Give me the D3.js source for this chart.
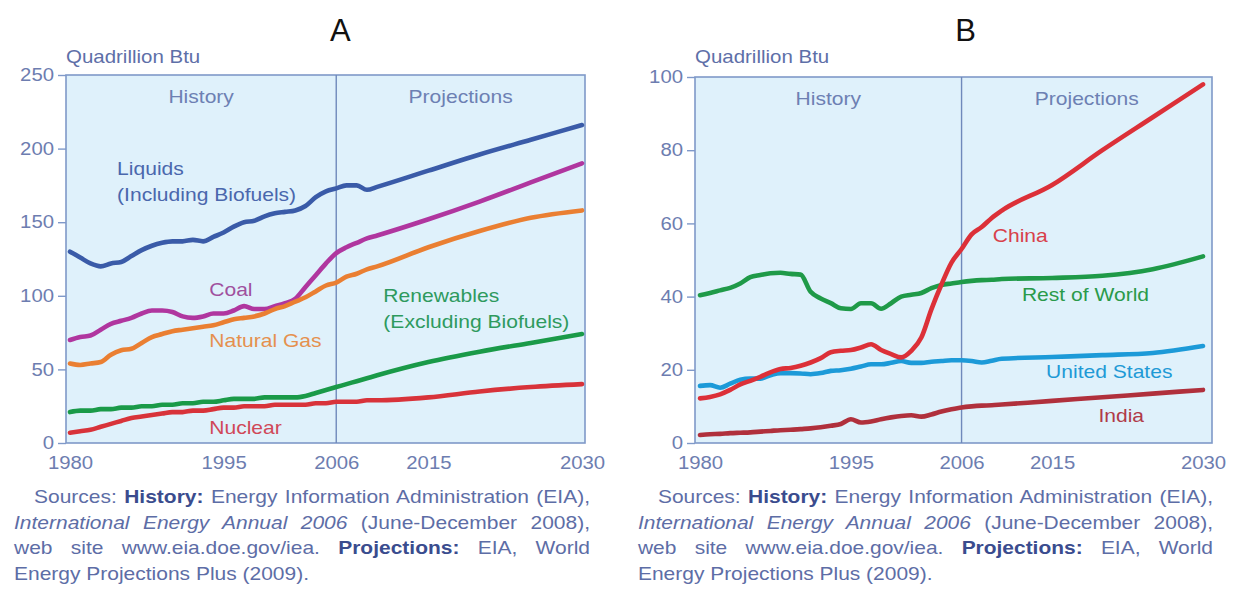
<!DOCTYPE html>
<html>
<head>
<meta charset="utf-8">
<script src="https://cdn.jsdelivr.net/npm/d3@7"></script>
<style>
  body { margin: 0; background: #ffffff; }
  #graf { position: relative; width: 1242px; height: 590px; overflow: hidden; font-family: "Liberation Sans", Arial, sans-serif; }
  .src { position: absolute; font-size: 18.6px; color: #5d6da6; white-space: nowrap; transform-origin: 0 0; }
  .src.just { text-align: justify; text-align-last: justify; white-space: normal; }
  .src b { color: #3a4c8e; }
</style>
</head>
<body>
<div id="graf"></div>
<script>
// years shared by every series
const years = [1980,1981,1982,1983,1984,1985,1986,1987,1988,1989,1990,1991,1992,1993,1994,1995,1996,1997,1998,1999,
  2000,2001,2002,2003,2004,2005,2006,2007,2008,2009,2010,2015,2020,2025,2030]

// Panel A - world energy use by fuel
const liquids = [130,126,122,120,122,123,127,131,134,136,137,137,138,137,140,143,147,150,151,154,
  156,157,158,161,167,171,173,175,175,172,174,185,196,206,216]
const coal = [70,72,73,77,81,83,85,88,90,90,89,86,85,86,88,88,90,93,91,91,
  93,95,98,106,114,122,129,133,136,139,141,152,164,177,190]
const naturalGas = [54,53,54,55,60,63,64,68,72,74,76,77,78,79,80,82,84,85,86,88,
  91,93,96,99,103,107,109,113,115,118,120,133,144,153,158]
const renewables = [21,22,22,23,23,24,24,25,25,26,26,27,27,28,28,29,30,30,30,31,
  31,31,31,32,34,36,38,40,42,44,46,55,62,68,74]
const nuclear = [7,8,9,11,13,15,17,18,19,20,21,21,22,22,23,24,24,25,25,25,
  26,26,26,26,27,27,28,28,28,29,29,31,35,38,40]

// Panel B - energy use by country
const china = [12.2,12.6,13.3,14.5,16,17,18.1,19.3,20.2,20.5,21.1,22,23.2,24.8,25.2,25.4,26.1,27,25.4,24.3,
  23.4,25.2,28.8,36.5,43.3,49.3,53,57,59,61.5,63.5,70.5,80,89,98]
const restOfWorld = [40.4,41,41.7,42.4,43.6,45.3,45.9,46.4,46.5,46.2,46,41.3,39.5,38.2,36.8,36.6,38.2,38.2,36.7,38.2,
  40,40.5,41,42.3,43.2,43.6,44,44.3,44.5,44.6,44.8,45.1,45.7,47.5,51]
const unitedStates = [15.6,15.8,15.1,16.2,17.3,17.6,17.6,18.5,19.1,19.1,19,18.8,19.1,19.7,19.9,20.3,20.9,21.5,21.5,21.9,
  22.4,21.9,21.9,22.2,22.4,22.6,22.6,22.4,22,22.5,23,23.5,24,24.6,26.5]
const india = [2.2,2.4,2.5,2.7,2.8,2.9,3.1,3.3,3.5,3.6,3.8,4,4.3,4.7,5.2,6.5,5.6,5.9,6.5,7,
  7.4,7.6,7.2,7.8,8.6,9.2,9.7,10,10.2,10.3,10.5,11.5,12.5,13.5,14.5]

const yTicksA = [0,50,100,150,200,250]
const yTicksB = [0,20,40,60,80,100]
const xTicks = [1980,1995,2006,2015,2030]

const FONT = "Liberation Sans, Arial, sans-serif"
const SX = 1.17   // the printed labels are a little wider than Arial

// widen text horizontally around its anchor point
const stretch = (sel, sx) => sel.each(function () {
  const t = d3.select(this)
  const x = +t.attr("x") || 0
  const y = +t.attr("y") || 0
  t.attr("x", 0).attr("y", 0).attr("transform", `translate(${x},${y}) scale(${sx},1)`)
  t.selectAll("tspan").attr("x", 0)
})

const graf = d3.select("#graf")
const svg = graf.append("svg")
    .attr("width", 1242)
    .attr("height", 590)
    .style("position", "absolute")
    .style("left", 0)
    .style("top", 0)

const drawPanel = (p) => {
  const x = d3.scaleLinear().domain([1980, 2030]).range(p.xr)
  const y = d3.scaleLinear().domain([0, p.ymax]).range([443, p.top])
  const g = svg.append("g").attr("font-family", FONT)

  // plot background
  g.append("rect")
      .attr("x", p.left).attr("y", p.top)
      .attr("width", p.right - p.left).attr("height", 443 - p.top)
      .attr("fill", "#dff1fb")
      .attr("stroke", "#7f99c9")
      .attr("stroke-width", 1.6)

  g.append("line")
      .attr("x1", x(2006)).attr("x2", x(2006))
      .attr("y1", p.top).attr("y2", 443)
      .attr("stroke", "#6f89bb")
      .attr("stroke-width", 1.4)

  // axes
  g.append("g")
      .attr("transform", `translate(${p.left},0)`)
      .call(d3.axisLeft(y).tickValues(p.yTicks).tickSize(8).tickSizeOuter(0).tickPadding(4))
      .call(a => a.select(".domain").remove())
      .call(a => a.selectAll("line").attr("stroke", "#7f99c9").attr("stroke-width", 1.4))
      .call(a => a.selectAll("text").attr("fill", "#6d7db0").attr("font-size", 18).attr("font-family", FONT).call(stretch, 1.13))

  g.append("g")
      .attr("transform", `translate(0,443)`)
      .call(d3.axisBottom(x).tickValues(xTicks).tickFormat(d3.format("d")).tickSize(0).tickPadding(13))
      .call(a => a.select(".domain").remove())
      .call(a => a.selectAll("text").attr("fill", "#6d7db0").attr("font-size", 18).attr("font-family", FONT).call(stretch, 1.13))

  g.append("text")
      .attr("x", p.left).attr("y", 63)
      .attr("fill", "#5e6fa8").attr("font-size", 17.5)
      .text("Quadrillion Btu")
      .call(stretch, SX)

  g.append("text")
      .attr("x", (p.left + x(2006)) / 2).attr("y", p.top + 28)
      .attr("text-anchor", "middle").attr("fill", "#6d80b3").attr("font-size", 18)
      .text("History")
      .call(stretch, SX)
  g.append("text")
      .attr("x", (x(2006) + p.right) / 2).attr("y", p.top + 28)
      .attr("text-anchor", "middle").attr("fill", "#6d80b3").attr("font-size", 18)
      .text("Projections")
      .call(stretch, SX)

  const line = d3.line()
      .x((d, i) => x(years[i]))
      .y(d => y(d))
      .curve(d3.curveMonotoneX)

  p.series.forEach(s => {
    g.append("path")
        .attr("fill", "none")
        .attr("stroke", s.color)
        .attr("stroke-width", 4.6)
        .attr("stroke-linejoin", "round")
        .attr("stroke-linecap", "round")
        .attr("d", line(s.values))
  })

  p.labels.forEach(l => {
    const t = g.append("text")
        .attr("x", x(l.at[0])).attr("y", y(l.at[1]))
        .attr("fill", l.color).attr("font-size", 18)
    l.lines.forEach((txt, i) => {
      t.append("tspan").attr("x", x(l.at[0])).attr("dy", i ? 26 : 0).text(txt)
    })
    t.call(stretch, SX)
  })

  // panel letter
  svg.append("text")
      .attr("x", x(2006) + 4).attr("y", 41)
      .attr("text-anchor", "middle")
      .attr("font-family", FONT)
      .attr("font-size", 31).attr("fill", "#111")
      .text(p.letter)
}

drawPanel({
  letter: "A", xr: [70, 582], left: 66, right: 585, top: 75, ymax: 250, yTicks: yTicksA,
  series: [
    {values: liquids, color: "#3a5ba8"},
    {values: coal, color: "#b0369f"},
    {values: naturalGas, color: "#ea7f32"},
    {values: renewables, color: "#1a9a48"},
    {values: nuclear, color: "#d8333a"}
  ],
  labels: [
    {lines: ["Liquids", "(Including Biofuels)"], at: [1984.6, 182], color: "#4a67ad"},
    {lines: ["Coal"], at: [1993.6, 100], color: "#a0509e"},
    {lines: ["Natural Gas"], at: [1993.6, 65], color: "#e5904e"},
    {lines: ["Renewables", "(Excluding Biofuels)"], at: [2010.6, 96], color: "#2e9a5e"},
    {lines: ["Nuclear"], at: [1993.6, 6], color: "#d04858"}
  ]
})

drawPanel({
  letter: "B", xr: [700, 1203], left: 695, right: 1212, top: 77, ymax: 100, yTicks: yTicksB,
  series: [
    {values: restOfWorld, color: "#1f9a48"},
    {values: unitedStates, color: "#1c9ad8"},
    {values: india, color: "#b0303c"},
    {values: china, color: "#dc3038"}
  ],
  labels: [
    {lines: ["China"], at: [2009.1, 55], color: "#d8404a"},
    {lines: ["Rest of World"], at: [2012, 38.8], color: "#2a9a4a"},
    {lines: ["United States"], at: [2014.4, 17.8], color: "#1e9ad6"},
    {lines: ["India"], at: [2019.6, 5.7], color: "#b03a48"}
  ]
})

// source notes
const sourceLines = [
  {html: "Sources: <b>History:</b> Energy Information Administration (EIA),", indent: 20, just: true},
  {html: "<i>International Energy Annual 2006</i> (June-December 2008),", indent: 0, just: true},
  {html: "web site www.eia.doe.gov/iea. <b>Projections:</b> EIA, World", indent: 0, just: true},
  {html: "Energy Projections Plus (2009).", indent: 0, just: false}
]
const lineTops = [486, 512, 537, 563]

// widen the notes so that the first line just fills its column
const probe = graf.append("span").attr("class", "src").style("visibility", "hidden").html(sourceLines[0].html)
const firstWidth = probe.node().getBoundingClientRect().width
probe.remove()

;[{left: 14, right: 590}, {left: 638, right: 1213}].forEach(col => {
  const srcSx = Math.min(1.15, (col.right - col.left - sourceLines[0].indent - 8) / firstWidth)
  sourceLines.forEach((l, i) => {
    graf.append("div")
        .attr("class", "src" + (l.just ? " just" : ""))
        .style("left", (col.left + l.indent) + "px")
        .style("top", lineTops[i] + "px")
        .style("width", ((col.right - col.left - l.indent) / srcSx) + "px")
        .style("transform", `scale(${srcSx},1)`)
        .html(l.html)
  })
})
</script>
</body>
</html>
